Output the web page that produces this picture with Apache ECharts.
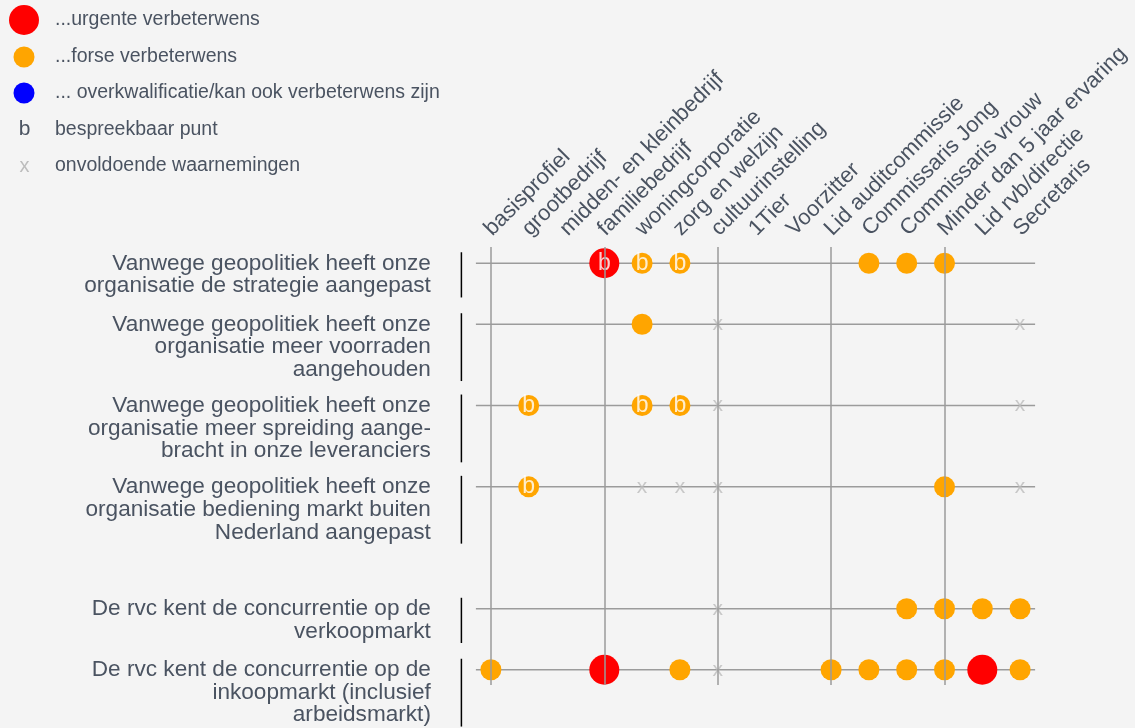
<!DOCTYPE html>
<html>
<head>
<meta charset="utf-8">
<script src="https://cdn.jsdelivr.net/npm/echarts@6/dist/echarts.min.js"></script>
<style>
  html, body { margin: 0; padding: 0; background: #f4f4f4; }
  #chart { width: 1135px; height: 728px; }
</style>
</head>
<body>
<div id="chart"></div>
<script>
// kolommen (profielen)
var columns = ['basisprofiel', 'grootbedrijf', 'midden- en kleinbedrijf', 'familiebedrijf',
  'woningcorporatie', 'zorg en welzijn', 'cultuurinstelling', '1Tier', 'Voorzitter',
  'Lid auditcommissie', 'Commissaris Jong', 'Commissaris vrouw', 'Minder dan 5 jaar ervaring',
  'Lid rvb/directie', 'Secretaris'];

// stellingen (rijen)
var statements = [
  'Vanwege geopolitiek heeft onze\norganisatie de strategie aangepast',
  'Vanwege geopolitiek heeft onze\norganisatie meer voorraden\naangehouden',
  'Vanwege geopolitiek heeft onze\norganisatie meer spreiding aange-\nbracht in onze leveranciers',
  'Vanwege geopolitiek heeft onze\norganisatie bediening markt buiten\nNederland aangepast',
  'De rvc kent de concurrentie op de\nverkoopmarkt',
  'De rvc kent de concurrentie op de\ninkoopmarkt (inclusief\narbeidsmarkt)'
];

// per rij een teken per kolom:
// R = urgent, O = fors, r/o = idem met "b", x = onvoldoende waarnemingen, . = leeg
var scores = [
  '...roo....OOO..',
  '....O.x.......x',
  '.o..oox.......x',
  '.o..xxx.....O.x',
  '......x....OOOO',
  'O..R.Ox..OOOORO'
];

// kolommen met een verticale scheidingslijn
var dividers = ['basisprofiel', 'familiebedrijf', 'cultuurinstelling', 'Lid auditcommissie', 'Minder dan 5 jaar ervaring'];

var seriesNames = ['...urgente verbeterwens', '...forse verbeterwens',
  '... overkwalificatie/kan ook verbeterwens zijn', 'bespreekbaar punt', 'onvoldoende waarnemingen'];

var textColor = '#4a5361';
var font = 'Liberation Sans, Arial, sans-serif';

// verticale positie van de rijen: aantal regels + 1, extra ruimte voor de rvc-rijen
var slot = 0;
var rowSlot = statements.map(function (s, i) {
  if (i === 4) slot += 2;
  var v = slot;
  slot += s.split('\n').length + 1;
  return v;
});

function pick(codes) {
  var out = [];
  scores.forEach(function (row, r) {
    row.split('').forEach(function (c, k) {
      if (codes.indexOf(c) >= 0) out.push([k, rowSlot[r]]);
    });
  });
  return out;
}

var myChart = echarts.init(document.getElementById('chart'));

var option = {
  backgroundColor: '#f4f4f4',
  textStyle: { fontFamily: font },
  animation: false,
  legend: [
    {
      data: [seriesNames[0]],
      left: 9, top: 5, padding: 0,
      itemWidth: 30, itemHeight: 30, icon: 'circle',
      formatter: function (n) { return '{t|' + n + '}'; },
      textStyle: { rich: { t: { fontSize: 19.5, color: textColor, padding: [0, 0, 0, 11], fontFamily: font } } }
    },
    {
      data: [seriesNames[1], seriesNames[2]],
      orient: 'vertical', left: 13.5, top: 46.5, padding: 0,
      itemWidth: 21, itemHeight: 21, itemGap: 15, icon: 'circle',
      formatter: function (n) { return '{t|' + n + '}'; },
      textStyle: { rich: { t: { fontSize: 19.5, color: textColor, padding: [0, 0, 0, 15.5], fontFamily: font } } }
    },
    {
      data: [seriesNames[3], seriesNames[4]],
      orient: 'vertical', left: 13, top: 119, padding: 0,
      itemWidth: 1, itemHeight: 20, itemGap: 16, icon: 'rect',
      itemStyle: { color: 'rgba(0,0,0,0)' },
      formatter: function (n) {
        return n === seriesNames[3] ? '{k|b}{t|' + n + '}' : '{x|x}{t|' + n + '}';
      },
      textStyle: {
        rich: {
          k: { width: 11, align: 'center', fontSize: 21, color: textColor, fontFamily: font },
          x: { width: 11, align: 'center', fontSize: 20, color: '#bdbdbd', fontFamily: font },
          t: { fontSize: 19.5, color: textColor, padding: [0, 0, 0, 25], fontFamily: font }
        }
      }
    }
  ],
  grid: { left: 472, right: 96, top: 247, bottom: 43, outerBoundsMode: 'none' },
  xAxis: {
    type: 'category',
    data: columns,
    position: 'top',
    boundaryGap: true,
    axisLine: { show: false },
    axisTick: { show: false },
    splitLine: { show: false },
    axisLabel: {
      interval: 0, rotate: 45, margin: 2,
      align: 'left', verticalAlign: 'bottom',
      formatter: '{a|{value}}',
      rich: { a: { fontSize: 22, color: textColor, fontFamily: font, padding: [0, 0, 0, 7] } }
    }
  },
  yAxis: { type: 'value', inverse: true, min: -0.8, max: 20.75, show: false },
  series: [
    {
      name: 'rijen',
      type: 'custom',
      z: 1,
      silent: true,
      data: statements.map(function (s, i) { return [0, rowSlot[i], i]; }),
      renderItem: function (params, api) {
        var i = params.dataIndex;
        var y = api.value(1);
        var p0 = api.coord([0, y]);
        var p1 = api.coord([columns.length - 1, y]);
        var lines = statements[i].split('\n').length;
        return {
          type: 'group',
          children: [
            { type: 'line', shape: { x1: p0[0] - 15, y1: p0[1], x2: p1[0] + 15, y2: p0[1] },
              style: { stroke: '#9b9b9b', lineWidth: 1.5 } },
            { type: 'line', shape: { x1: p0[0] - 29.5, y1: p0[1] - 11, x2: p0[0] - 29.5, y2: p0[1] - 11 + lines * 22.6 },
              style: { stroke: '#000', lineWidth: 1.5 } },
            { type: 'text', x: p0[0] - 60, y: p0[1] - 11,
              style: { text: statements[i], align: 'right', verticalAlign: 'top', fontSize: 22.6,
                       lineHeight: 22.6, fontFamily: font, fill: textColor } }
          ]
        };
      },
      markLine: {
        silent: true,
        symbol: 'none',
        label: { show: false },
        lineStyle: { color: '#9b9b9b', width: 1.5, type: 'solid' },
        data: dividers.map(function (d) { return { xAxis: d }; })
      }
    },
    {
      name: seriesNames[0], type: 'scatter', z: 3,
      symbol: 'circle', symbolSize: 30,
      itemStyle: { color: '#ff0000', opacity: 1 },
      data: pick('Rr')
    },
    {
      name: seriesNames[1], type: 'scatter', z: 3,
      symbol: 'circle', symbolSize: 21,
      itemStyle: { color: '#ffa500', opacity: 1 },
      data: pick('Oo')
    },
    {
      name: seriesNames[2], type: 'scatter', z: 3,
      symbol: 'circle', symbolSize: 21,
      itemStyle: { color: '#0000ff', opacity: 1 },
      data: pick('Bb')
    },
    {
      name: seriesNames[3], type: 'scatter', z: 4,
      symbol: 'circle', symbolSize: 1,
      itemStyle: { color: 'rgba(0,0,0,0)' },
      label: { show: true, position: 'inside', formatter: 'b', color: '#fff', fontSize: 23, fontFamily: font },
      data: pick('ro')
    },
    {
      name: seriesNames[4], type: 'scatter', z: 4,
      symbol: 'circle', symbolSize: 1,
      itemStyle: { color: 'rgba(0,0,0,0)' },
      label: { show: true, position: 'inside', formatter: 'x', color: '#bdbdbd', fontSize: 21, fontFamily: font },
      data: pick('x')
    }
  ]
};

myChart.setOption(option);
</script>
</body>
</html>
